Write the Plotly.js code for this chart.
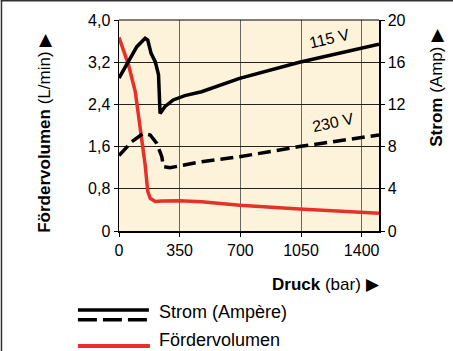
<!DOCTYPE html>
<html>
<head>
<meta charset="utf-8">
<script src="https://cdn.plot.ly/plotly-3.0.1.min.js"></script>
<style>html,body{margin:0;padding:0;background:#fff;}#chart{width:453px;height:351px;}</style>
</head>
<body>
<div id="chart"></div>
<script>
// Pressure (bar) vs flow volume (L/min)
const volPressure = [0, 55, 94, 122, 151, 166, 180, 209, 247, 351, 476, 696, 1041, 1500];
const volValues   = [3.67, 3.15, 2.64, 2.01, 1.25, 0.75, 0.62, 0.56, 0.57, 0.575, 0.555, 0.49, 0.415, 0.335];

// Current at 115 V (A)
const amp115Pressure = [0, 55, 103, 151, 166, 185, 209, 228, 237, 266, 313, 380, 476, 696, 1041, 1500];
const amp115Values   = [14.5, 16.05, 17.47, 18.26, 18.1, 16.84, 16.05, 14.8, 11.15, 11.8, 12.42, 12.83, 13.2, 14.47, 16.0, 17.7];

// Current at 230 V (A)
const amp230Pressure = [0, 74, 141, 180, 218, 247, 256, 294, 476, 696, 1041, 1500];
const amp230Values   = [7.15, 8.47, 9.26, 9.1, 8.3, 7.05, 6.1, 6.0, 6.57, 7.04, 8.0, 9.1];

const xTicks = [0, 350, 700, 1050, 1400];
const xTickText = ['0', '350', '700', '1050', '1400'];
const yTicks = [0, 0.8, 1.6, 2.4, 3.2, 4.0];
const yTickText = ['0', '0,8', '1,6', '2,4', '3,2', '4,0'];
const y2Ticks = [0, 4, 8, 12, 16, 20];
const y2TickText = ['0', '4', '8', '12', '16', '20'];

const seriesLabels = ['115 V', '230 V'];
const legendLabels = ['Strom (Ampère)', 'Fördervolumen'];
const xTitle = '<b>Druck</b> (bar) ▶';
const yTitle = '<b>Fördervolumen</b> (L/min) ▶';
const y2Title = '<b>Strom</b> (Amp) ▶';

const FONT = "'Liberation Sans', Arial, sans-serif";
const NARROW = "'Liberation Sans Narrow', 'Arial Narrow', 'Liberation Sans', sans-serif";

const traces = [
  {x: volPressure, y: volValues, mode: 'lines', yaxis: 'y',
   line: {color: '#e8302a', width: 3.5}, hoverinfo: 'skip'},
  {x: amp230Pressure, y: amp230Values, mode: 'lines', yaxis: 'y2',
   line: {color: '#000', width: 3.5, dash: '13px,6px'}, hoverinfo: 'skip'},
  {x: amp115Pressure, y: amp115Values, mode: 'lines', yaxis: 'y2',
   line: {color: '#000', width: 3.5}, hoverinfo: 'skip'}
];

const layout = {
  width: 453, height: 351,
  margin: {l: 119, r: 74, t: 20, b: 120},
  paper_bgcolor: '#ffffff',
  plot_bgcolor: '#fdf3da',
  showlegend: false,
  font: {family: FONT, size: 16, color: '#000'},
  xaxis: {
    range: [0, 1500], tickvals: xTicks, ticktext: xTickText,
    showgrid: true, gridcolor: '#666', gridwidth: 1,
    showline: true, linecolor: '#000', linewidth: 1.5, mirror: false,
    ticks: 'outside', ticklen: 4, tickcolor: '#000',
    zeroline: false, fixedrange: true,
    tickfont: {family: FONT, size: 16}
  },
  yaxis: {
    range: [0, 4.0], tickvals: yTicks, ticktext: yTickText,
    showgrid: true, gridcolor: '#222', gridwidth: 1,
    showline: true, linecolor: '#000', linewidth: 1.5,
    ticks: 'outside', ticklen: 4, tickcolor: '#000',
    zeroline: false, fixedrange: true,
    tickfont: {family: FONT, size: 16}
  },
  yaxis2: {
    range: [0, 20], tickvals: y2Ticks, ticktext: y2TickText,
    overlaying: 'y', side: 'right', showgrid: false,
    showline: true, linecolor: '#000', linewidth: 1.5,
    ticks: 'outside', ticklen: 4, tickcolor: '#000',
    zeroline: false, fixedrange: true,
    tickfont: {family: FONT, size: 16}
  },
  shapes: [
    {type: 'line', xref: 'paper', yref: 'paper', x0: -0.455, x1: 1.285, y0: 1.091, y1: 1.091,
     line: {color: '#333', width: 1.5}},
    {type: 'line', xref: 'paper', yref: 'paper', x0: -0.452, x1: -0.452, y0: 1.091, y1: -0.57,
     line: {color: '#333', width: 1.5}},
    {type: 'line', xref: 'paper', yref: 'paper', x0: 0, x1: 1, y0: 1, y1: 1,
     line: {color: '#000', width: 1}},
    {type: 'line', xref: 'paper', yref: 'paper', x0: -0.158, x1: 0.115, y0: -0.374, y1: -0.374,
     line: {color: '#000', width: 3.5}},
    {type: 'line', xref: 'paper', yref: 'paper', x0: -0.158, x1: 0.115, y0: -0.421, y1: -0.421,
     line: {color: '#000', width: 3.5, dash: '19px,6px'}},
    {type: 'line', xref: 'paper', yref: 'paper', x0: -0.158, x1: 0.119, y0: -0.545, y1: -0.545,
     line: {color: '#e8302a', width: 4}}
  ],
  annotations: [
    {text: seriesLabels[0], xref: 'x', yref: 'y2', x: 1215, y: 18.2, showarrow: false,
     textangle: -13, font: {family: NARROW, size: 16, color: '#000'}},
    {text: seriesLabels[1], xref: 'x', yref: 'y2', x: 1235, y: 10.3, showarrow: false,
     textangle: -12, font: {family: NARROW, size: 16, color: '#000'}},
    {text: xTitle, xref: 'paper', yref: 'paper', x: 1.012, y: -0.2, xanchor: 'right', yanchor: 'top',
     showarrow: false, font: {family: FONT, size: 17}},
    {text: yTitle, xref: 'paper', yref: 'paper', x: -0.285, y: 0.465, xanchor: 'center', yanchor: 'middle',
     showarrow: false, textangle: -90, font: {family: FONT, size: 17}},
    {text: y2Title, xref: 'paper', yref: 'paper', x: 1.22, y: 0.68, xanchor: 'center', yanchor: 'middle',
     showarrow: false, textangle: -90, font: {family: FONT, size: 17}},
    {text: legendLabels[0], xref: 'paper', yref: 'paper', x: 0.146, y: -0.384, xanchor: 'left', yanchor: 'middle',
     showarrow: false, font: {family: FONT, size: 18}},
    {text: legendLabels[1], xref: 'paper', yref: 'paper', x: 0.146, y: -0.517, xanchor: 'left', yanchor: 'middle',
     showarrow: false, font: {family: FONT, size: 18}}
  ]
};

Plotly.newPlot('chart', traces, layout, {staticPlot: true, displayModeBar: false});
</script>
</body>
</html>
